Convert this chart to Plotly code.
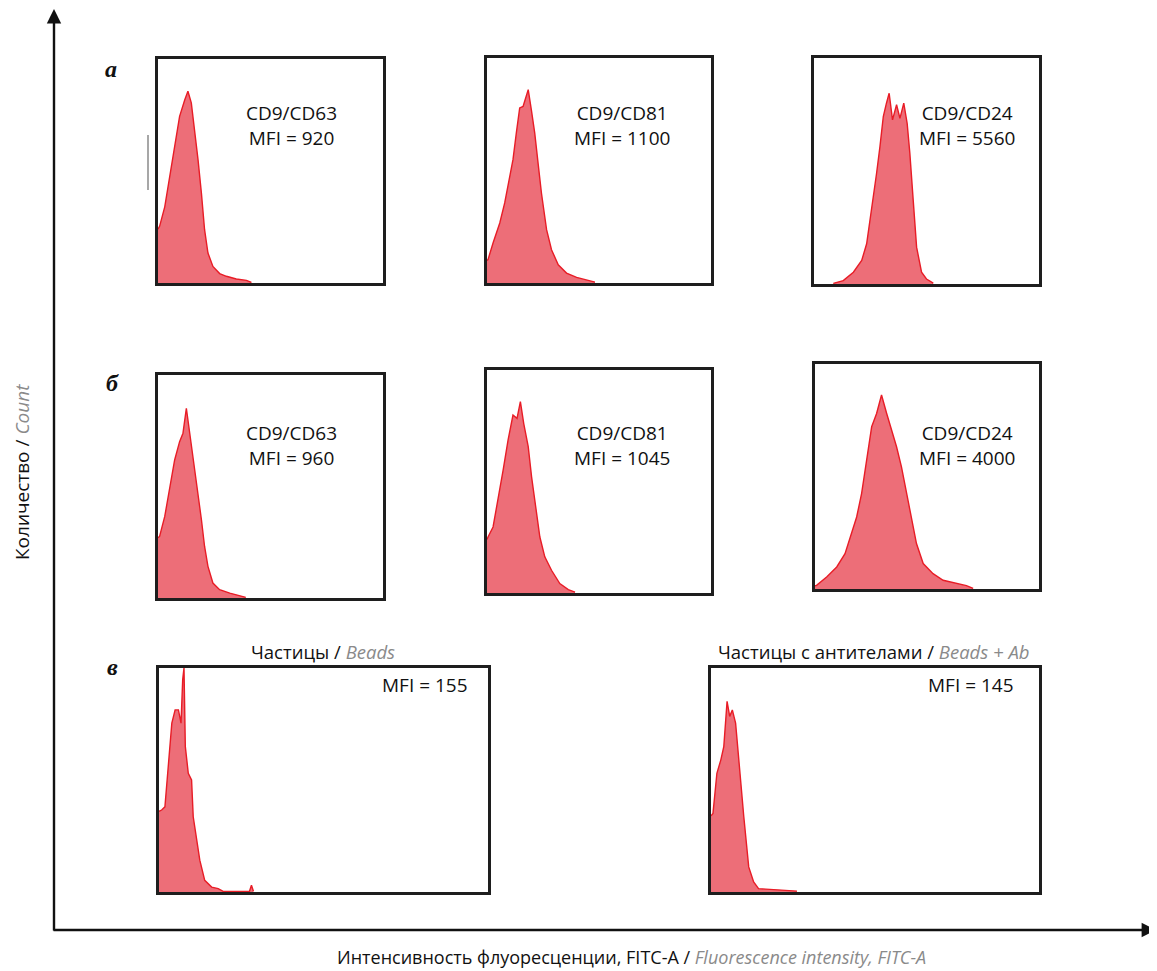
import plotly.graph_objects as go

# page body has an 8px default margin: work in reference pixels, shift by OFF
REF_W, REF_H = 1157, 971
OFF = 8
W, H = REF_W - OFF, REF_H - OFF

# ---- data: histogram outlines (x = % of channel range, y = % of max count) ----
a1_x = [0, 0.7, 3.0, 5.2, 7.4, 9.6, 11.9, 13.3, 14.8, 16.3, 17.8, 19.3, 20.7, 22.2, 24.4, 27.4, 30.4, 34.8, 39.3, 41.5]
a1_y = [24, 25.3, 34, 47.6, 62.5, 74.4, 81.8, 85.6, 80.4, 68.5, 55, 40, 23.8, 13.4, 7.4, 4.2, 3, 1.8, 1.2, 0.3]

a2_x = [0, 0.45, 2.7, 5.7, 7.9, 10.1, 11.6, 13.1, 14.6, 16.1, 18.4, 19.9, 21.3, 22.8, 24.3, 26.6, 28.8, 31.8, 35.5, 40, 44.5, 48.2]
a2_y = [10, 10.4, 17.8, 26.7, 35.6, 47.4, 54.8, 66.7, 77.8, 78.5, 85.9, 76.3, 66.7, 53.3, 40, 23.7, 14.8, 8.1, 4.4, 2.5, 1.5, 0.4]

a3_x = [8.6, 13, 17.5, 21.2, 23.4, 24.9, 26.3, 27.8, 29.3, 30.8, 32.2, 33.4, 34.9, 36.7, 38.2, 39.9, 41.4, 42.6, 44.1, 45.6, 47.8, 50, 53]
a3_y = [0.3, 1.5, 5.2, 10.4, 17.8, 28.1, 40, 48.9, 60.7, 74.1, 80, 84.4, 72.6, 79.3, 73.3, 80, 71.1, 57.8, 37, 16.3, 5.2, 2.2, 0.4]

b1_x = [0, 0.7, 3.0, 5.2, 7.4, 9.6, 11.1, 12.6, 14.1, 15.9, 17.8, 19.3, 20.7, 22.2, 24.4, 27.4, 31.9, 36.3, 39]
b1_y = [27, 27.6, 36.6, 48.5, 61.9, 70.1, 73.9, 85.1, 73.9, 61.9, 47, 35.1, 23.1, 14.2, 6.7, 3.7, 2.2, 1, 0.3]

b2_x = [0, 0.45, 2.7, 4.9, 7.2, 9.4, 11.6, 13.4, 14.9, 16.4, 18.4, 19.9, 21.8, 23.6, 25.8, 28.8, 32.5, 36.3, 39.3]
b2_y = [24, 25.1, 29.6, 41.6, 55.1, 68.6, 79.8, 78.3, 85.8, 76, 65.6, 52.1, 38.6, 25.1, 16.2, 10.2, 4.2, 1.5, 0.4]

b3_x = [0, 0.7, 5.2, 9.7, 13.4, 16.3, 18.6, 20.8, 23, 25.3, 27.5, 29.7, 32, 34.2, 36.4, 38.6, 40.9, 43.1, 45.3, 48.3, 52.7, 57.2, 63.2, 67.6, 70.6]
b3_y = [1.4, 1.6, 5.3, 9.8, 15.7, 24.6, 32, 42.4, 57.3, 72.1, 78, 86.2, 78, 70.6, 63.2, 54.3, 42.4, 30.6, 20.2, 11.3, 6.8, 3.9, 2.4, 1.5, 0.3]

c1_x = [0, 0.8, 1.8, 2.8, 3.9, 4.9, 5.9, 6.7, 7.2, 7.6, 8.0, 8.9, 9.9, 10.4, 11.4, 12.4, 13.9, 16, 18, 19.5, 27.5, 28.1, 28.7]
c1_y = [36, 36.6, 38, 57.5, 75.4, 81.3, 81.3, 75.4, 94.8, 100, 64.9, 53, 50, 33.6, 24.6, 14.2, 5.2, 2.2, 1.5, 0.3, 0.3, 3, 0.3]

c2_x = [0, 0.6, 1.8, 3.0, 3.9, 4.9, 5.7, 6.5, 7.5, 8.5, 10, 11.5, 13, 14.5, 19.1, 26.2]
c2_y = [34, 35.1, 53, 59, 64.9, 85.1, 78.4, 81.3, 75.4, 57.5, 33.6, 11.2, 4.5, 1.5, 1, 0.4]

texts_top = ["CD9/CD63<br>MFI = 920", "CD9/CD81<br>MFI = 1100", "CD9/CD24<br>MFI = 5560"]
texts_mid = ["CD9/CD63<br>MFI = 960", "CD9/CD81<br>MFI = 1045", "CD9/CD24<br>MFI = 4000"]
texts_bot = ["MFI = 155", "MFI = 145"]
titles_bot = ["Частицы / <i><span style='color:#8a8a8a'>Beads</span></i>",
              "Частицы с антителами / <i><span style='color:#8a8a8a'>Beads + Ab</span></i>"]
row_labels = ["а", "б", "в"]

# ---- layout (reference pixel boxes: left, right, top, bottom) ----
boxes = [
    (158, 383, 59, 283), (487, 711, 58, 283), (814, 1039, 58, 284),
    (158, 383, 375, 598), (487, 711, 370, 593), (815, 1039, 364, 589),
    (159, 488, 668, 892), (711, 1039, 668, 892),
]
series = [(a1_x, a1_y), (a2_x, a2_y), (a3_x, a3_y),
          (b1_x, b1_y), (b2_x, b2_y), (b3_x, b3_y),
          (c1_x, c1_y), (c2_x, c2_y)]

FILL = "rgba(236,98,108,0.92)"
LINE = "rgb(232,28,38)"
FONT = "Open Sans"

def px(x):
    return (x - OFF) / W

def py(y):
    return 1 - (y - OFF) / H

fig = go.Figure()
layout = dict(width=W, height=H, margin=dict(l=0, r=0, t=0, b=0),
              paper_bgcolor="white", plot_bgcolor="white", showlegend=False)

for i, ((l, r, t, b), (xs, ys)) in enumerate(zip(boxes, series)):
    n = "" if i == 0 else str(i + 1)
    fig.add_trace(go.Scatter(x=xs, y=ys, mode="lines", fill="tozeroy",
                             fillcolor=FILL, line=dict(color=LINE, width=1.4),
                             xaxis="x" + n, yaxis="y" + n, hoverinfo="skip"))
    ax = dict(domain=[px(l), px(r)], range=[0, 100], showgrid=False, zeroline=False,
              showticklabels=False, ticks="", showline=True, mirror=True,
              linecolor="#1e1e1e", linewidth=2.6, fixedrange=True)
    layout["xaxis" + n] = dict(ax, anchor="y" + n)
    ay = dict(ax, domain=[py(b), py(t)])
    layout["yaxis" + n] = dict(ay, anchor="x" + n)

annotations = []
centers_top = [(291, 126), (622, 126), (967, 126)]
centers_mid = [(291, 445), (622, 445), (967, 445)]
for (cx, cy), txt in zip(centers_top + centers_mid, texts_top + texts_mid):
    annotations.append(dict(x=px(cx), y=py(cy), xref="paper", yref="paper", text=txt,
                            showarrow=False, font=dict(family=FONT, size=19, color="#111"),
                            xanchor="center", yanchor="middle", align="center"))
for (cx, cy), txt in zip([(425, 685), (971, 685)], texts_bot):
    annotations.append(dict(x=px(cx), y=py(cy), xref="paper", yref="paper", text=txt,
                            showarrow=False, font=dict(family=FONT, size=19, color="#111"),
                            xanchor="center", yanchor="middle"))
for (cx, cy), txt in zip([(323, 651), (874, 651)], titles_bot):
    annotations.append(dict(x=px(cx), y=py(cy), xref="paper", yref="paper", text=txt,
                            showarrow=False, font=dict(family=FONT, size=18.5, color="#111"),
                            xanchor="center", yanchor="middle"))
for (cx, cy), txt in zip([(111, 69), (112, 383), (112, 667)], row_labels):
    annotations.append(dict(x=px(cx), y=py(cy), xref="paper", yref="paper",
                            text="<b><i>" + txt + "</i></b>", showarrow=False,
                            font=dict(family="Liberation Serif", size=24, color="#111"),
                            xanchor="center", yanchor="middle"))
annotations.append(dict(x=px(631), y=py(957), xref="paper", yref="paper",
                        text="Интенсивность флуоресценции, FITC-A / <i><span style='color:#8a8a8a'>Fluorescence intensity, FITC-A</span></i>",
                        showarrow=False, font=dict(family=FONT, size=18, color="#111"),
                        xanchor="center", yanchor="middle"))
annotations.append(dict(x=px(22), y=py(472), xref="paper", yref="paper",
                        text="Количество / <i><span style='color:#8a8a8a'>Count</span></i>",
                        showarrow=False, textangle=-90, font=dict(family=FONT, size=19, color="#111"),
                        xanchor="center", yanchor="middle"))
annotations.append(dict(x=px(54), y=py(9), xref="paper", yref="paper", ax=0, ay=923,
                        showarrow=True, arrowhead=2, arrowsize=1.2, arrowwidth=2.4,
                        arrowcolor="#111", text=""))
annotations.append(dict(x=px(1156), y=py(930), xref="paper", yref="paper", ax=-1104, ay=0,
                        showarrow=True, arrowhead=2, arrowsize=1.2, arrowwidth=2.4,
                        arrowcolor="#111", text=""))
layout["annotations"] = annotations

layout["shapes"] = [dict(type="line", xref="paper", yref="paper",
                         x0=px(148), x1=px(148), y0=py(135), y1=py(190),
                         line=dict(color="#8a8a8a", width=1.5))]

fig.update_layout(**layout)
fig.write_html("out.html")
